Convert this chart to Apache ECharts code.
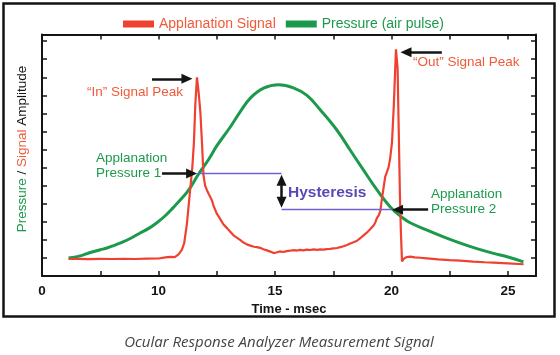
<!DOCTYPE html>
<html><head><meta charset="utf-8">
<script src="https://cdn.jsdelivr.net/npm/echarts/dist/echarts.min.js"></script>
<style>html,body{margin:0;padding:0;background:#fff}#c{width:560px;height:355px}</style>
</head><body><div id="c"></div>
<script>
// Applanation signal (time in msec, amplitude)
const signalTime = [6.14,6.6,7.0,7.5,8.0,8.5,9.0,9.5,10.0,10.3,10.5,10.7,10.86,11.0,11.1,11.22,11.33,11.45,11.52,11.58,11.65,11.72,11.8,11.86,11.93,12.0,12.08,12.15,12.22,12.29,12.36,12.43,12.5,12.58,12.65,12.72,12.79,12.86,12.94,13.01,13.08,13.15,13.22,13.29,13.36,13.43,13.5,13.58,13.65,13.72,13.79,13.86,13.94,14.02,14.1,14.16,14.22,14.29,14.36,14.43,14.5,14.58,14.65,14.72,14.8,14.87,14.94,15.0,15.05,15.12,15.2,15.28,15.36,15.43,15.5,15.58,15.65,15.72,15.79,15.86,15.94,16.01,16.08,16.15,16.22,16.3,16.37,16.44,16.51,16.58,16.65,16.72,16.8,16.87,16.94,17.01,17.08,17.15,17.22,17.29,17.36,17.43,17.51,17.58,17.66,17.73,17.8,17.87,17.94,18.01,18.09,18.16,18.23,18.3,18.37,18.45,18.52,18.59,18.66,18.73,18.8,18.87,18.94,19.01,19.09,19.16,19.23,19.3,19.37,19.45,19.52,19.59,19.66,19.73,19.8,19.87,19.94,20.02,20.1,20.19,20.26,20.31,20.36,20.4,20.45,20.52,20.65,20.8,21.0,21.23,21.52,22.0,22.5,22.95,23.5,24.0,24.38,25.0,25.67];
const signalAmp = [0.94,0.95,0.93,0.95,0.94,0.95,0.94,0.96,0.97,1.03,1.06,1.05,1.2,1.45,1.8,2.9,4.4,6.0,7.4,9.5,11.0,10.2,9.0,7.5,5.6,5.0,4.75,4.55,4.6,4.2,3.9,3.8,3.45,3.3,3.2,3.0,2.85,2.9,2.65,2.6,2.45,2.4,2.25,2.22,2.12,2.08,2.0,1.9,1.85,1.82,1.75,1.72,1.68,1.7,1.62,1.63,1.6,1.62,1.56,1.52,1.48,1.47,1.42,1.44,1.35,1.3,1.27,1.22,1.3,1.26,1.36,1.3,1.33,1.36,1.38,1.35,1.4,1.37,1.43,1.4,1.41,1.44,1.45,1.41,1.42,1.46,1.46,1.43,1.44,1.48,1.47,1.44,1.45,1.49,1.47,1.45,1.46,1.5,1.49,1.47,1.5,1.52,1.53,1.51,1.55,1.58,1.6,1.62,1.65,1.69,1.72,1.75,1.8,1.84,1.87,1.9,1.95,2.02,2.1,2.15,2.25,2.3,2.4,2.5,2.6,2.66,2.8,2.95,3.2,3.35,3.6,4.3,4.9,5.5,5.75,6.0,6.5,7.4,9.5,12.55,11.5,8.0,4.5,2.5,0.8,0.95,1.05,1.07,1.03,1.01,0.98,0.92,0.88,0.85,0.8,0.76,0.74,0.7,0.65];
// Pressure (air pulse)
const pressureTime = [6.14,6.6,7.07,7.5,7.79,8.1,8.5,8.85,9.21,9.6,9.93,10.3,10.64,11.0,11.29,11.72,12.15,12.5,13.08,13.51,13.94,14.51,15.15,15.79,16.37,16.94,17.66,18.23,18.8,19.37,20.02,20.5,20.8,21.5,22.2,22.95,23.7,24.38,25.0,25.66];
const pressureAmp = [1.0,1.1,1.3,1.45,1.55,1.7,1.9,2.12,2.38,2.65,2.95,3.35,3.8,4.3,4.75,5.65,6.45,7.2,8.25,9.1,9.85,10.4,10.59,10.42,10.0,9.2,8.07,6.96,5.86,4.78,3.72,3.2,2.95,2.55,2.18,1.82,1.5,1.25,1.05,0.78];
// x tick labels (axis origin is labelled "0")
const xTickLabels = {5:'0', 10:'10', 15:'15', 20:'20', 25:'25'};
// annotation anchors (time, amplitude)
const applanation1 = [11.7, 5.68];
const applanation2 = [20.02, 3.67];
const hysteresisX = 15.28;

const RED = '#ee4130', RED_T = '#f05a3a', GREEN = '#1c9a4c', PURPLE = '#5b47b5', LAV = '#6f62d6', INK = '#141414';

const chart = echarts.init(document.getElementById('c'), null, {renderer:'canvas'});
const frameLine = {show:true, onZero:false, lineStyle:{color:INK, width:2}};
const tick = {show:true, inside:true, length:5, lineStyle:{color:INK, width:1.5}};
function seg(a, b) { return [{coord:a}, {coord:b}]; }
const F = '"Liberation Sans", Arial, sans-serif';
chart.setOption({
  animation:false,
  backgroundColor:'#fff',
  grid:{left:42, right:24, top:34.5, bottom:79, outerBoundsMode:'none', containLabel:false},
  legend:{
    left:123, top:17, padding:0, itemWidth:31, itemHeight:7, itemGap:10, icon:'rect', selectedMode:false,
    textStyle:{fontSize:14, fontFamily:F},
    data:[{name:'Applanation Signal', textStyle:{color:RED_T}}, {name:'Pressure (air pulse)', textStyle:{color:GREEN}}]
  },
  xAxis:[
    {type:'value', min:5, max:26.2, interval:2.5, position:'bottom', axisLine:frameLine, axisTick:tick, splitLine:{show:false},
     axisLabel:{color:INK, fontWeight:'bold', fontSize:13.5, fontFamily:F, margin:8, showMaxLabel:false,
       formatter:v => xTickLabels[v] !== undefined ? xTickLabels[v] : ''},
     name:'Time - msec', nameLocation:'middle', nameGap:25,
     nameTextStyle:{color:INK, fontWeight:'bold', fontSize:13, fontFamily:F, verticalAlign:'top'}},
    {type:'value', min:5, max:26.2, interval:2.5, position:'top', axisLine:frameLine, axisTick:tick,
     axisLabel:{show:false}, splitLine:{show:false}}
  ],
  yAxis:[
    {type:'value', min:0, max:13.37, interval:1, position:'left', axisLine:frameLine, axisTick:tick,
     axisLabel:{show:false}, splitLine:{show:false}},
    {type:'value', min:0, max:13.37, interval:1, position:'right', axisLine:frameLine, axisTick:tick,
     axisLabel:{show:false}, splitLine:{show:false}}
  ],
  series:[
    {name:'Pressure (air pulse)', type:'line', smooth:0.4, symbol:'none', color:GREEN,
     lineStyle:{color:GREEN, width:3}, data:pressureTime.map((t,i)=>[t, pressureAmp[i]]), z:2},
    {name:'Applanation Signal', type:'line', smooth:false, symbol:'none', color:RED,
     lineStyle:{color:RED, width:2.2}, data:signalTime.map((t,i)=>[t, signalAmp[i]]), z:3},
    {name:'hyst', type:'line', data:[], z:4, color:LAV, itemStyle:{color:LAV}, lineStyle:{color:LAV},
     markLine:{silent:true, animation:false, symbol:'none', label:{show:false}, emphasis:{disabled:true},
       itemStyle:{color:LAV},
       lineStyle:{color:LAV, width:1.3, type:'solid', opacity:1},
       data:[
         seg(applanation1, [hysteresisX, applanation1[1]]),
         seg([hysteresisX, applanation2[1]], applanation2)
       ]}},
    {name:'arrows', type:'line', data:[], z:5, color:INK,
     markLine:{silent:true, animation:false, symbol:['none','triangle'], symbolSize:[10,11], label:{show:false}, emphasis:{disabled:true},
       lineStyle:{color:INK, width:2.5, type:'solid'},
       data:[
         seg([9.72, 10.92], [11.22, 10.92]),
         seg([22.16, 12.39], [20.62, 12.39]),
         seg([10.15, applanation1[1]], [11.42, applanation1[1]]),
         seg([21.57, applanation2[1]], [20.26, applanation2[1]])
       ]}},
    {name:'arrows2', type:'line', data:[], z:5, color:INK,
     markLine:{silent:true, animation:false, symbol:['triangle','triangle'], symbolSize:[10,11], label:{show:false}, emphasis:{disabled:true},
       lineStyle:{color:INK, width:2.5, type:'solid'},
       data:[ seg([hysteresisX, 5.3], [hysteresisX, 4.08]) ]}}
  ],
  graphic:[
    {type:'rect', shape:{x:3.5, y:3.5, width:551, height:313}, style:{fill:'none', stroke:INK, lineWidth:2.5}, z:100},
    {type:'text', x:22.7, y:149, rotation:Math.PI/2, style:{
      text:'{g|Pressure} {k|/} {r|Signal} {k|Amplitude}', textAlign:'center', textVerticalAlign:'middle',
      font:'13.5px '+F,
      rich:{g:{fill:GREEN, font:'13.5px '+F}, r:{fill:RED_T, font:'13.5px '+F}, k:{fill:INK, font:'13.5px '+F}}}},
    {type:'text', x:87, y:92, style:{text:'\u201CIn\u201D Signal Peak', fill:RED_T, font:'13.5px '+F, textAlign:'left', textVerticalAlign:'middle'}},
    {type:'text', x:413, y:62.5, style:{text:'\u201COut\u201D Signal Peak', fill:RED_T, font:'13.5px '+F, textAlign:'left', textVerticalAlign:'middle'}},
    {type:'text', x:96, y:158.5, style:{text:'Applanation', fill:GREEN, font:'13.5px '+F, textAlign:'left', textVerticalAlign:'middle'}},
    {type:'text', x:96, y:173, style:{text:'Pressure 1', fill:GREEN, font:'13.5px '+F, textAlign:'left', textVerticalAlign:'middle'}},
    {type:'text', x:431, y:194.5, style:{text:'Applanation', fill:GREEN, font:'13.5px '+F, textAlign:'left', textVerticalAlign:'middle'}},
    {type:'text', x:431, y:209.5, style:{text:'Pressure 2', fill:GREEN, font:'13.5px '+F, textAlign:'left', textVerticalAlign:'middle'}},
    {type:'text', x:288, y:192.5, style:{text:'Hysteresis', fill:PURPLE, font:'bold 15.5px '+F, textAlign:'left', textVerticalAlign:'middle'}},
    {type:'text', x:279, y:343, style:{text:'Ocular Response Analyzer Measurement Signal', fill:'#444', font:'italic 15px "Open Sans", sans-serif', textAlign:'center', textVerticalAlign:'middle'}}
  ]
});
</script></body></html>
